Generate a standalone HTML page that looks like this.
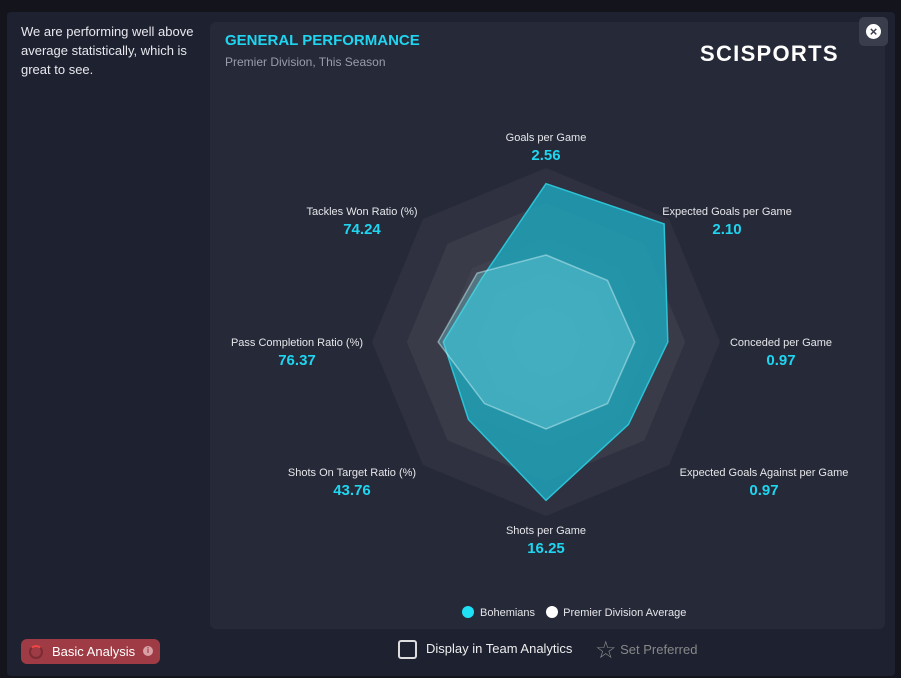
<!DOCTYPE html>
<html><head><meta charset="utf-8"><style>
body{margin:0;width:901px;height:678px;background:#14151c;font-family:"Liberation Sans",sans-serif;overflow:hidden;position:relative}
.modal{position:absolute;left:7px;top:12px;width:888px;height:664px;background:#1e2130;border-radius:4px}
.panel{position:absolute;left:210px;top:22px;width:675px;height:607px;background:#262a38;border-radius:6px}
.t{position:absolute;color:#fff}
.lab{position:absolute;font-size:11px;color:#e6e6ea;text-align:center;width:220px;margin-left:-110px}
.val{position:absolute;font-size:15px;font-weight:bold;color:#1fd5f0;text-align:center;width:120px;margin-left:-60px}
</style></head><body>
<div class="modal"></div>
<div class="t" style="left:21px;top:22px;width:185px;font-size:13px;line-height:19px;color:#e8e8ee">We are performing well above average statistically, which is great to see.</div>
<div class="panel"></div>
<div class="t" style="left:225px;top:32px;font-size:15px;font-weight:bold;color:#1fd5f0">GENERAL PERFORMANCE</div>
<div class="t" style="left:225px;top:55px;font-size:12px;color:#9a9cab">Premier Division, This Season</div>
<div class="t" style="left:700px;top:41px;font-size:22px;font-weight:900;letter-spacing:1.3px">SCISPORTS</div>
<div style="position:absolute;left:859px;top:17px;width:29px;height:29px;background:#3a3d4b;border-radius:5px"><div style="position:absolute;left:7px;top:7px;width:15px;height:15px;border-radius:50%;background:#fff;color:#3a3d4b;font-size:13px;font-weight:bold;line-height:15px;text-align:center">×</div></div>
<svg id="radar" width="901" height="678" style="position:absolute;left:0;top:0"></svg>
<div id="labels"></div>
<div style="position:absolute;left:462px;top:606px;font-size:11px;color:#e6e6ea;white-space:nowrap">
<span><span style="display:inline-block;width:12px;height:12px;border-radius:50%;background:#1fe0f5;vertical-align:-2px;margin-right:6px"></span>Bohemians</span>
<span style="margin-left:8px"><span style="display:inline-block;width:12px;height:12px;border-radius:50%;background:#fff;vertical-align:-2px;margin-right:5px"></span>Premier Division Average</span>
</div>
<div style="position:absolute;left:21px;top:639px;width:139px;height:25px;background:#9e3b44;border-radius:6px;color:#fff;font-size:13px;line-height:25px">
<span style="position:absolute;left:8px;top:6px;width:10px;height:10px;border:2px solid #7a2b33;border-top-color:#e44;border-radius:50%"></span>
<span style="position:absolute;left:31px">Basic Analysis</span>
<span style="position:absolute;left:122px;top:7px;width:10px;height:10px;border-radius:50%;background:#d9a0a5;color:#9e3b44;font-size:8px;line-height:10px;text-align:center;font-weight:bold">i</span></div>
<div style="position:absolute;left:398px;top:640px;width:15px;height:15px;border:2px solid #ddd;border-radius:3px"></div>
<div class="t" style="left:426px;top:641px;font-size:13px;color:#eee">Display in Team Analytics</div>
<div class="t" style="left:595px;top:636px;font-size:13px;color:#888"><span style="font-size:24px;vertical-align:-4px">☆</span> Set Preferred</div>
<script>
const categories=["Goals per Game","Expected Goals per Game","Conceded per Game","Expected Goals Against per Game","Shots per Game","Shots On Target Ratio (%)","Pass Completion Ratio (%)","Tackles Won Ratio (%)"];
const printedValues=["2.56","2.10","0.97","0.97","16.25","43.76","76.37","74.24"];
const bohemians=[0.91,0.96,0.70,0.67,0.91,0.63,0.59,0.52];
const leagueAverage=[0.50,0.50,0.51,0.50,0.50,0.50,0.62,0.56];
const rings=[1,0.8,0.6,0.4,0.2];
const cx=546,cy=342,R=174;
const labelAnchors=[[546,132],[727,206],[781,337],[764,467],[546,525],[352,467],[297,337],[362,206]];
const svg=document.getElementById('radar');
const NS="http://www.w3.org/2000/svg";
function pt(i,v){const a=-Math.PI/2+i*2*Math.PI/categories.length;return [cx+Math.cos(a)*R*v,cy+Math.sin(a)*R*v];}
function poly(vals,fill,stroke,name){const p=document.createElementNS(NS,'polygon');
p.setAttribute('points',vals.map((v,i)=>pt(i,v).join(',')).join(' '));
p.setAttribute('fill',fill);if(stroke){p.setAttribute('stroke',stroke);p.setAttribute('stroke-width','1.5');}


svg.appendChild(p);}
const ringCols=['#2f3140','#393b49','#3f414e','#454753','#4a4c58'];
rings.forEach((r,k)=>poly(categories.map(()=>r),ringCols[k],null,'grid-ring'));
poly(bohemians,'rgba(28,178,200,0.75)','#2cc3d6','bohemians-area');
poly(leagueAverage,'rgba(120,215,225,0.35)','rgba(200,240,245,0.5)','average-area');
const lab=document.getElementById('labels');
categories.forEach((c,i)=>{const lx=labelAnchors[i][0],ly=labelAnchors[i][1];
const d=document.createElement('div');d.className='lab';d.style.left=lx+'px';d.style.top=ly+'px';d.textContent=c;


lab.appendChild(d);
const v=document.createElement('div');v.className='val';v.style.left=lx+'px';v.style.top=(ly+15)+'px';v.textContent=printedValues[i];


lab.appendChild(v);});
</script>
</body></html>
